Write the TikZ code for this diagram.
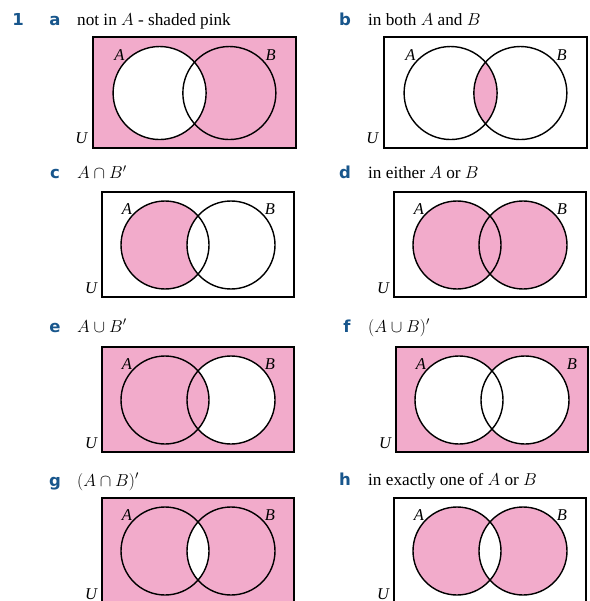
\documentclass[tikz,border=0pt]{standalone}
\usepackage{fontspec}
\setmainfont{Liberation Serif}
\newfontfamily\lblfont{DejaVu Sans}
\definecolor{vpink}{RGB}{242,171,203}
\definecolor{vblue}{RGB}{24,86,140}
\newcommand\Acirc{(63,53) circle[radius=44]}
\newcommand\Bcirc{(129,53) circle[radius=44]}
\newcommand\Urect{(0,0) rectangle (192,105)}
\newcommand\lensfill[1]{\begin{scope}\clip \Acirc; \fill[#1] \Bcirc;\end{scope}}
% #1 name, #2 x, #3 y, #4 scale, #5 fill code, #6 B label x
\newcommand\vpanel[6]{%
  \begin{scope}[shift={(#2,#3)},scale=#4]
    #5
    \draw[rectline] \Urect;
    \draw[circline] \Acirc;
    \draw[circline] \Bcirc;
    \node[setlbl] (#1A) at (25,17) {A};
    \node[setlbl] (#1B) at (#6,17) {B};
    \node[setlbl] (#1U) at (-11,96) {U};
  \end{scope}}
\begin{document}
\begin{tikzpicture}[x=1pt,y=-1pt,
  rectline/.style={line width=1.1pt},
  circline/.style={line width=1.4pt},
  setlbl/.style={font=\fontsize{16.5}{18}\selectfont\itshape, inner sep=0pt},
  part/.style={font=\lblfont\bfseries\fontsize{16.5}{18}\selectfont, text=vblue, anchor=base, inner sep=0pt},
  caption/.style={font=\fontsize{17.2}{20}\selectfont, anchor=base west, inner sep=0pt}]
\useasboundingbox (0,0) rectangle (589,601);
\clip (0,0) rectangle (589,601);
% headers
\node[part] (n1) at (18,26) {1};
\node[part] (la) at (55,26) {a};
\node[caption] (ta) at (77,26) {not in $A$ - shaded pink};
\node[part] (lb) at (345,26) {b};
\node[caption] (tb) at (368,26) {in both $A$ and $B$};
\node[part] (lc) at (55,179) {c};
\node[caption] (tc) at (77,179) {$A\cap B'$};
\node[part] (ld) at (345,179) {d};
\node[caption] (td) at (368,179) {in either $A$ or $B$};
\node[part] (le) at (55,332) {e};
\node[caption] (te) at (77,332) {$A\cup B'$};
\node[part] (lf) at (347,332) {f};
\node[caption] (tf) at (368,332) {$(A\cup B)'$};
\node[part] (lg) at (55,486) {g};
\node[caption] (tg) at (77,486) {$(A\cap B)'$};
\node[part] (lh) at (345,485) {h};
\node[caption] (th) at (368,485) {in exactly one of $A$ or $B$};
% panels
\vpanel{pa}{93}{37}{1.057}{\fill[vpink] \Urect; \fill[white] \Acirc;}{168}
\vpanel{pb}{384}{37}{1.057}{\lensfill{vpink}}{168}
\vpanel{pc}{102}{192}{1}{\fill[vpink] \Acirc; \lensfill{white}}{168}
\vpanel{pd}{394}{192}{1}{\fill[vpink] \Acirc; \fill[vpink] \Bcirc;}{168}
\vpanel{pe}{102}{347}{1}{\fill[vpink] \Urect; \fill[white] \Bcirc; \lensfill{vpink}}{168}
\vpanel{pf}{396}{347}{1}{\fill[vpink] \Urect; \fill[white] \Acirc; \fill[white] \Bcirc;}{176}
\vpanel{pg}{102}{498}{1}{\fill[vpink] \Urect; \lensfill{white}}{168}
\vpanel{ph}{394}{498}{1}{\fill[vpink] \Acirc; \fill[vpink] \Bcirc; \lensfill{white}}{168}
\end{tikzpicture}
\end{document}
